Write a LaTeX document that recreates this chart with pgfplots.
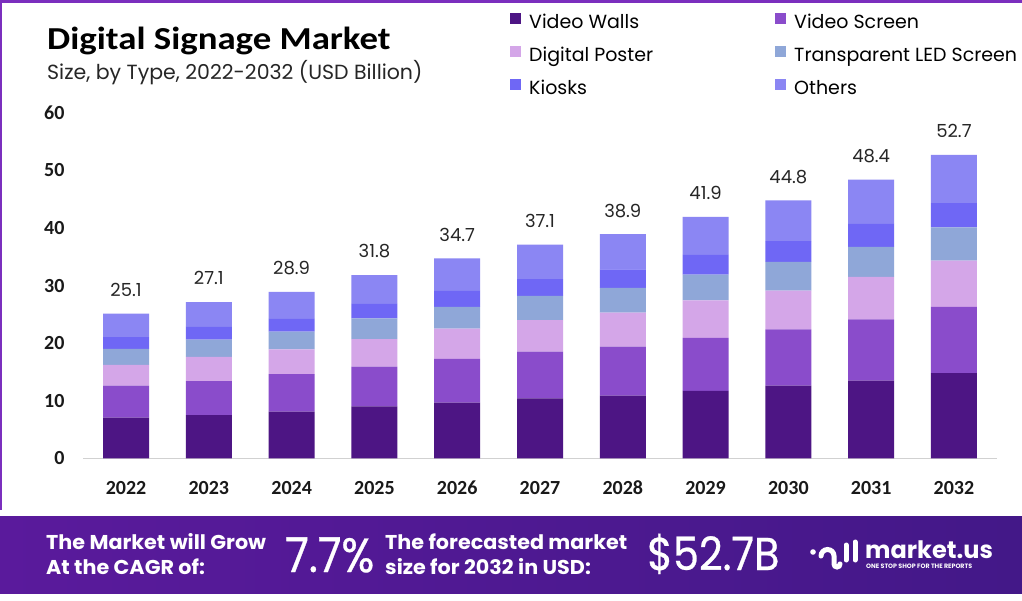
\documentclass[border=0pt]{standalone}
\usepackage{pgfplots}
\pgfplotsset{compat=1.18}
\usepackage{fontspec}
\setmainfont{Poppins}
\newfontfamily\titlefont{Carlito}[FakeStretch=1.15]
\newfontfamily\tickfont{Carlito}
\newfontfamily\subfont{Poppins}
\newfontfamily\bannerfont{Poppins}[FakeStretch=1.035]
\newfontfamily\bigfont{Poppins}[FakeStretch=0.9, FakeBold=0.6]
\definecolor{vw}{HTML}{4D1584}
\definecolor{vs}{HTML}{8A4CCB}
\definecolor{dp}{HTML}{D4A6E8}
\definecolor{tl}{HTML}{8FA7D8}
\definecolor{ki}{HTML}{6F67F5}
\definecolor{ot}{HTML}{8B86F3}
\definecolor{border}{HTML}{7B2FBE}
\definecolor{bl}{HTML}{5A1A9C}
\definecolor{bm}{HTML}{A52BD4}
\definecolor{br}{HTML}{431888}
\begin{document}
\begin{tikzpicture}[x=1pt,y=1pt]
\useasboundingbox (0,0) rectangle (1022,600);
\fill[white] (0,0) rectangle (1022,600);
\fill[border] (0,597) rectangle (1022,600);
\fill[border] (0,90) rectangle (2,600);
% banner
\shade[left color=bl, middle color=bm, right color=br] (0,7) rectangle (1022,84);
% titles
\node[anchor=base west, inner sep=0pt] at (47,550) {\titlefont\bfseries\fontsize{32}{32}\selectfont Digital Signage Market};
\node[anchor=base west, inner sep=0pt, text=black!85] at (47,520) {\subfont\fontsize{20.5}{20.5}\selectfont Size, by Type, 2022-2032 (USD Billion)};
% banner texts
\node[anchor=base west, inner sep=0pt, text=white] at (46,51) {\bannerfont\bfseries\fontsize{20}{20}\selectfont The Market will Grow};
\node[anchor=base west, inner sep=0pt, text=white] at (46,26) {\bannerfont\bfseries\fontsize{20}{20}\selectfont At the CAGR of:};
\node[anchor=base west, inner sep=0pt, text=white] at (285,28) {\bigfont\fontsize{48}{48}\selectfont 7.7\%};
\node[anchor=base west, inner sep=0pt, text=white] at (385,51) {\bannerfont\bfseries\fontsize{20}{20}\selectfont The forecasted market};
\node[anchor=base west, inner sep=0pt, text=white] at (385,26) {\bannerfont\bfseries\fontsize{20}{20}\selectfont size for 2032 in USD:};
\node[anchor=base west, inner sep=0pt, text=white] at (647,30) {\bigfont\fontsize{46}{46}\selectfont \$52.7B};
% logo
\fill[white] (813,48) circle (2.8);
\draw[white, line width=5pt, line cap=round] (821,44) arc[start angle=180, end angle=0, radius=6.5] -- (834,36) arc[start angle=180, end angle=360, radius=3];
\draw[white, line width=5pt, line cap=round] (846,40) -- (846,55);
\draw[white, line width=5pt, line cap=round] (855,40) -- (855,58);
\node[anchor=base west, inner sep=0pt, text=white] at (865,42) {\bfseries\fontsize{24}{24}\selectfont market.us};
\node[anchor=base west, inner sep=0pt, text=white] at (866,31.5) {\bfseries\fontsize{6.3}{6.3}\selectfont ONE STOP SHOP FOR THE REPORTS};
\begin{axis}[
  at={(83pt,141.7pt)}, anchor=south west,
  scale only axis, width=914pt, height=345.6pt,
  ybar stacked, bar width=46pt,
  xmin=-0.52, xmax=10.52, ymin=0, ymax=60,
  xtick={0,...,10}, xticklabels={2022,2023,2024,2025,2026,2027,2028,2029,2030,2031,2032},
  ytick={0,10,...,60},
  axis x line=bottom, axis y line=left,
  x axis line style={-, draw=black!18, line width=1.2pt},
  y axis line style={draw=none},
  major tick length=0pt, tick style={draw=none},
  /pgf/number format/assume math mode=true,
  tick label style={font=\tickfont\bfseries\fontsize{20}{20}\selectfont, text=black!90, text height=13pt, text depth=0pt},
  xticklabel style={yshift=-20pt},
  yticklabel style={xshift=-15pt},
  legend columns=2,
  legend cell align=left,
  legend style={at={(0.4672,1.290)}, anchor=north west, draw=none, fill=none, inner sep=0pt,
    font=\fontsize{19}{19}\selectfont,
    nodes={inner sep=0pt, text height=12pt, text depth=3pt},
    row sep=14pt, /tikz/every odd column/.append style={column sep=8pt}},
  legend image code/.code={\draw[#1, draw=none] (0pt,0.5pt) rectangle (11pt,11.5pt);},
]
\addplot[fill=vw, draw=none] coordinates {(0,7.05) (1,7.5) (2,8.1) (3,9.0) (4,9.65) (5,10.4) (6,10.9) (7,11.7) (8,12.6) (9,13.5) (10,14.8)};
\addlegendentry{\makebox[246pt][l]{Video Walls}}
\addplot[fill=vs, draw=none] coordinates {(0,5.55) (1,5.9) (2,6.5) (3,6.9) (4,7.6) (5,8.1) (6,8.5) (7,9.2) (8,9.8) (9,10.6) (10,11.5)};
\addlegendentry{Video Screen}
\addplot[fill=dp, draw=none] coordinates {(0,3.6) (1,4.2) (2,4.3) (3,4.8) (4,5.25) (5,5.5) (6,5.9) (7,6.5) (8,6.7) (9,7.4) (10,8.0)};
\addlegendentry{\makebox[246pt][l]{Digital Poster}}
\addplot[fill=tl, draw=none] coordinates {(0,2.8) (1,3.0) (2,3.1) (3,3.6) (4,3.8) (5,4.2) (6,4.3) (7,4.5) (8,5.0) (9,5.2) (10,5.8)};
\addlegendentry{Transparent LED Screen}
\addplot[fill=ki, draw=none] coordinates {(0,2.05) (1,2.2) (2,2.2) (3,2.5) (4,2.75) (5,2.9) (6,3.2) (7,3.4) (8,3.6) (9,4.0) (10,4.2)};
\addlegendentry{\makebox[246pt][l]{Kiosks}}
\addplot[fill=ot, draw=none] coordinates {(0,4.05) (1,4.3) (2,4.7) (3,5.0) (4,5.65) (5,6.0) (6,6.1) (7,6.6) (8,7.1) (9,7.7) (10,8.4)};
\addlegendentry{Others}
\addplot[draw=none, fill=white, fill opacity=0, text opacity=1, nodes near coords={\raisebox{17pt}{\pgfplotspointmeta}}, point meta=explicit symbolic,
  nodes near coords style={font=\fontsize{18}{18}\selectfont, text=black!85, inner sep=0pt, anchor=south}]
  coordinates {(0,0.01) [25.1] (1,0.01) [27.1] (2,0.01) [28.9] (3,0.01) [31.8] (4,0.01) [34.7] (5,0.01) [37.1] (6,0.01) [38.9] (7,0.01) [41.9] (8,0.01) [44.8] (9,0.01) [48.4] (10,0.01) [52.7]};
\end{axis}
\end{tikzpicture}
\end{document}
